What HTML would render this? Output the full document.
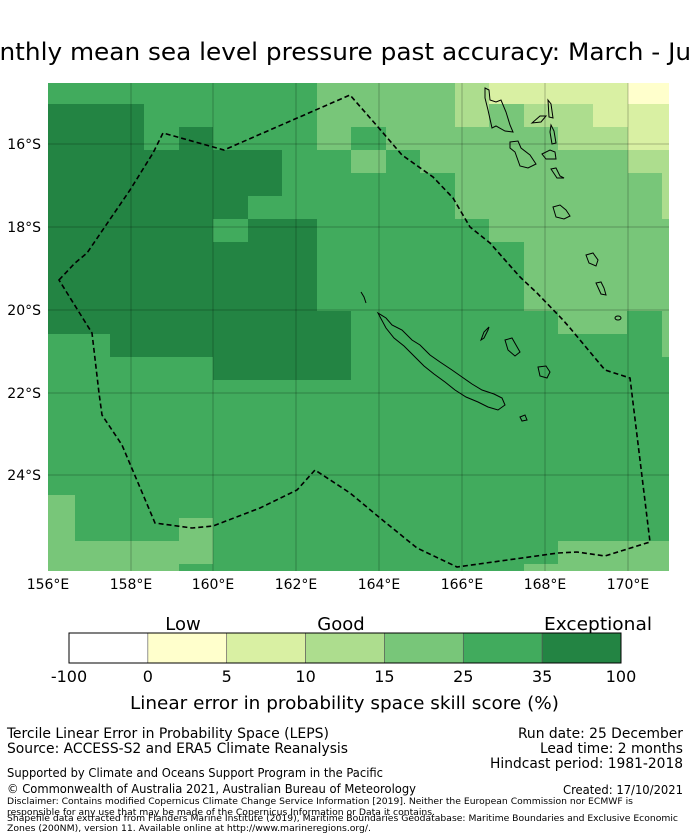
<!DOCTYPE html>
<html><head><meta charset="utf-8">
<style>
html,body{margin:0;padding:0;background:#fff;}
svg{display:block;font-family:"DejaVu Sans","Liberation Sans",sans-serif;}
.c{font-family:"DejaVu Sans Condensed","DejaVu Sans","Liberation Sans",sans-serif;}
</style></head>
<body>
<svg id="fig" width="690" height="839" viewBox="0 0 690 839" xmlns="http://www.w3.org/2000/svg">
<text x="-37" y="60" font-size="24" textLength="759" lengthAdjust="spacingAndGlyphs">Monthly mean sea level pressure past accuracy: March - June</text>
<defs><clipPath id="mc"><rect x="48" y="83" width="621" height="488"/></clipPath></defs>
<g clip-path="url(#mc)">
<rect x="48" y="83" width="621" height="488" fill="#41ab5d"/>
<polygon fill="#238443" points="48,104 144,104 144,150 179,150 179,127 213,127 213,150 282,150 282,196 248,196 248,219 317,219 317,311 351,311 351,380 213,380 213,357 110,357 110,334 48,334"/>
<rect x="213" y="219" width="35" height="23" fill="#41ab5d"/>
<polygon fill="#78c679" points="317,83 669,83 669,357 662,357 662,311 627,311 627,334 558,334 558,311 524,311 524,242 489,242 489,219 455,219 455,173 420,173 420,150 386,150 386,173 351,173 351,150 317,150"/>
<rect x="351" y="127" width="35" height="23" fill="#41ab5d"/>
<polygon fill="#78c679" points="48,495 75,495 75,541 179,541 179,518 213,518 213,564 179,564 179,571 48,571"/>
<polygon fill="#78c679" points="558,541 669,541 669,571 524,571 524,564 558,564"/>
<g fill="#addd8e">
<rect x="455" y="83" width="34" height="44"/><rect x="524" y="104" width="69" height="23"/><rect x="558" y="127" width="70" height="23"/><rect x="628" y="150" width="34" height="23"/><rect x="662" y="150" width="7" height="69"/>
</g>
<g fill="#d9f0a3">
<rect x="489" y="83" width="139" height="21"/><rect x="593" y="104" width="35" height="23"/><rect x="628" y="104" width="41" height="46"/>
</g>
<rect x="628" y="83" width="41" height="21" fill="#ffffcc"/>
<g stroke="#000" stroke-opacity="0.25" stroke-width="1">
<line x1="131" y1="83" x2="131" y2="571"/><line x1="213" y1="83" x2="213" y2="571"/><line x1="296" y1="83" x2="296" y2="571"/><line x1="379" y1="83" x2="379" y2="571"/><line x1="462" y1="83" x2="462" y2="571"/><line x1="545" y1="83" x2="545" y2="571"/><line x1="628" y1="83" x2="628" y2="571"/>
<line x1="48" y1="144" x2="669" y2="144"/><line x1="48" y1="227" x2="669" y2="227"/><line x1="48" y1="310" x2="669" y2="310"/><line x1="48" y1="393" x2="669" y2="393"/><line x1="48" y1="475" x2="669" y2="475"/>
</g>
<g fill="none" stroke="#000" stroke-width="1">
<path d="M378,313 L386,318 L392,325 L402,330 L412,340 L420,345 L430,355 L440,362 L452,370 L462,377 L472,384 L482,390 L494,394 L502,398 L505,405 L498,410 L488,407 L478,402 L466,397 L455,390 L445,382 L434,374 L424,366 L414,356 L404,346 L394,338 L386,328 Z"/>
<path d="M361,292 L364,297 L366,303"/>
<path d="M484,338 L488,330 L489,327 L484,332 L481,340 Z"/>
<path d="M505,340 L512,338 L516,345 L520,352 L515,356 L508,350 Z"/>
<path d="M538,367 L546,366 L550,372 L547,378 L540,376 Z"/>
<path d="M520,417 L525,415 L527,420 L522,421 Z"/>
<path d="M485,88 L489,90 L490,100 L496,102 L501,100 L506,112 L510,125 L513,132 L505,131 L496,126 L492,128 L488,110 L485,98 Z"/>
<path d="M532,123 L540,116 L546,116 L541,122 Z"/>
<path d="M548,100 L551,104 L553,118 L549,117 Z M551,125 L554,131 L556,143 L552,144 L550,132 Z"/>
<path d="M510,142 L518,141 L521,148 L530,155 L536,164 L528,168 L520,166 L515,152 L510,148 Z"/>
<path d="M542,154 L550,150 L555,152 L556,159 L546,159 Z"/>
<path d="M551,169 L556,168 L560,176 L564,178 L557,178 Z"/>
<path d="M553,207 L560,205 L566,210 L570,216 L564,219 L556,217 Z"/>
<path d="M586,255 L593,253 L598,260 L596,266 L589,263 Z"/>
<path d="M596,283 L601,282 L604,288 L606,295 L601,294 Z"/>
<ellipse cx="618" cy="318" rx="3" ry="2"/>
</g>
<path fill="none" stroke="#000" stroke-width="1.6" stroke-dasharray="5,3" d="M59,280 L75,263 L87,253 L130,190 L153,153 L163,133 L224,150 L350,95 L378,127 L402,155 L433,177 L453,198 L470,227 L490,243 L520,277 L537,293 L563,320 L570,328 L605,370 L630,378 L650,542 L605,556 L577,552 L558,553 L457,567 L417,548 L380,518 L350,493 L315,470 L297,490 L260,508 L213,526 L192,528 L155,523 L122,445 L102,415 L99,393 L92,333 Z"/>
</g>
<g font-size="14" fill="#000">
<text x="41" y="149" text-anchor="end">16°S</text><text x="41" y="232" text-anchor="end">18°S</text><text x="41" y="315" text-anchor="end">20°S</text><text x="41" y="398" text-anchor="end">22°S</text><text x="41" y="480" text-anchor="end">24°S</text>
</g>
<g font-size="14" fill="#000" text-anchor="middle">
<text x="48" y="589">156°E</text><text x="131" y="589">158°E</text><text x="213" y="589">160°E</text><text x="296" y="589">162°E</text><text x="379" y="589">164°E</text><text x="462" y="589">166°E</text><text x="545" y="589">168°E</text><text x="628" y="589">170°E</text>
</g>
<g id="cbar"></g>
<text x="183" y="630" font-size="18" text-anchor="middle">Low</text>
<text x="341" y="630" font-size="18" text-anchor="middle">Good</text>
<text x="544" y="630" font-size="18" textLength="108" lengthAdjust="spacingAndGlyphs">Exceptional</text>
<text x="130" y="709" font-size="18" textLength="429" lengthAdjust="spacingAndGlyphs">Linear error in probability space skill score (%)</text>
<g class="c" fill="#000">
<text x="7" y="738" font-size="14" textLength="322" lengthAdjust="spacingAndGlyphs">Tercile Linear Error in Probability Space (LEPS)</text>
<text x="7" y="753" font-size="14" textLength="341" lengthAdjust="spacingAndGlyphs">Source: ACCESS-S2 and ERA5 Climate Reanalysis</text>
<text x="518" y="738" font-size="14" textLength="165" lengthAdjust="spacingAndGlyphs">Run date: 25 December</text>
<text x="540" y="753" font-size="14" textLength="143" lengthAdjust="spacingAndGlyphs">Lead time: 2 months</text>
<text x="490" y="768" font-size="14" textLength="193" lengthAdjust="spacingAndGlyphs">Hindcast period: 1981-2018</text>
<text x="7" y="777" font-size="12" textLength="376" lengthAdjust="spacingAndGlyphs">Supported by Climate and Oceans Support Program in the Pacific</text>
<text x="7" y="793" font-size="12" textLength="409" lengthAdjust="spacingAndGlyphs">© Commonwealth of Australia 2021, Australian Bureau of Meteorology</text>
<text x="563" y="794" font-size="12" textLength="120" lengthAdjust="spacingAndGlyphs">Created: 17/10/2021</text>
<text x="7" y="804" font-size="9" textLength="626" lengthAdjust="spacingAndGlyphs">Disclaimer: Contains modified Copernicus Climate Change Service Information [2019]. Neither the European Commission nor ECMWF is</text>
<text x="7" y="815" font-size="9" textLength="428" lengthAdjust="spacingAndGlyphs">responsible for any use that may be made of the Copernicus Information or Data it contains.</text>
<text x="7" y="821" font-size="9" textLength="671" lengthAdjust="spacingAndGlyphs">Shapefile data extracted from Flanders Marine Institute (2019), Maritime Boundaries Geodatabase: Maritime Boundaries and Exclusive Economic</text>
<text x="7" y="831" font-size="9" textLength="364" lengthAdjust="spacingAndGlyphs">Zones (200NM), version 11. Available online at http://www.marineregions.org/.</text>
</g>
</svg>
<script>
const cbTicks = ["-100","0","5","10","15","25","35","100"];
const cbColors = ["#ffffff","#ffffcc","#d9f0a3","#addd8e","#78c679","#41ab5d","#238443"];
const NS = "http://www.w3.org/2000/svg";
const g = document.getElementById("cbar");
const x0 = 69, x1 = 621, y0 = 633, h = 30;
const seg = (x1 - x0) / cbColors.length;
function sx(i){ return x0 + i * seg; }
cbColors.forEach(function(c, i){
  const r = document.createElementNS(NS, "rect");
  r.setAttribute("x", sx(i)); r.setAttribute("y", y0);
  r.setAttribute("width", seg); r.setAttribute("height", h);
  r.setAttribute("fill", c); r.setAttribute("stroke", "#555"); r.setAttribute("stroke-width", "0.6");
  
  
  g.appendChild(r);
});
const frame = document.createElementNS(NS, "rect");
frame.setAttribute("x", x0); frame.setAttribute("y", y0); frame.setAttribute("width", x1 - x0); frame.setAttribute("height", h);
frame.setAttribute("fill", "none"); frame.setAttribute("stroke", "#000"); frame.setAttribute("stroke-width", "1");


g.appendChild(frame);
cbTicks.forEach(function(t, i){
  const tx = document.createElementNS(NS, "text");
  tx.setAttribute("x", sx(i)); tx.setAttribute("y", 682);
  tx.setAttribute("font-size", "16"); tx.setAttribute("text-anchor", "middle");
  tx.textContent = t;
  
  
  g.appendChild(tx);
});
</script>
</body></html>
